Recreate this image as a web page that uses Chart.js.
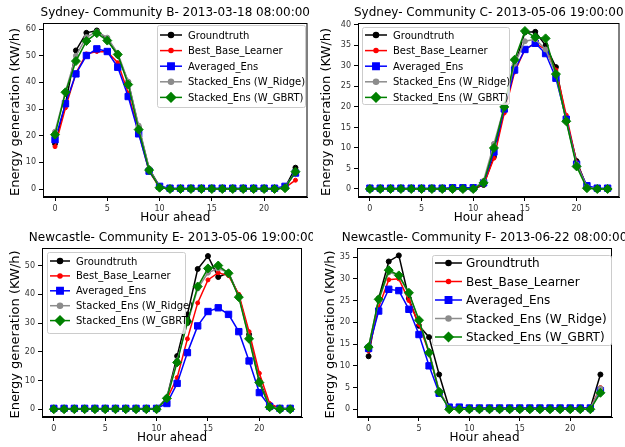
<!DOCTYPE html>
<html>
<head>
  <title>Energy generation forecasts</title>
  <script src="https://cdn.jsdelivr.net/npm/chart.js"></script>
  <style>
    body { margin: 0; background: #fff; }
    #wrap { position: relative; width: 625px; height: 447px; overflow: hidden; }
    canvas { position: absolute; }
  </style>
</head>
<body>
<div id="wrap">
  <canvas id="c1" width="313" height="225" style="left:0;top:0"></canvas>
  <canvas id="c2" width="312" height="225" style="left:313px;top:0"></canvas>
  <canvas id="c3" width="313" height="222" style="left:0;top:225px"></canvas>
  <canvas id="c4" width="312" height="222" style="left:313px;top:225px"></canvas>
</div>
<script>
// data
var hours = [0, 1, 2, 3, 4, 5, 6, 7, 8, 9, 10, 11, 12, 13, 14, 15, 16, 17, 18, 19, 20, 21, 22, 23];
var seriesNames = ["Groundtruth", "Best_Base_Learner", "Averaged_Ens", "Stacked_Ens (W_Ridge)", "Stacked_Ens (W_GBRT)"];
var xTicks = [0, 5, 10, 15, 20];

// Sydney- Community B
var sydB_truth = [17, 32, 52, 58.6, 59.5, 56.2, 50.2, 40.2, 23.2, 7.6, 1, 0, 0, 0, 0, 0, 0, 0, 0, 0, 0, 0, 0.5, 8];
var sydB_best  = [15.9, 30.5, 43.5, 50.7, 51.6, 51.5, 47.4, 36, 21.2, 6.7, 0.5, 0, 0, 0, 0, 0, 0, 0, 0, 0, 0, 0, 0.5, 3.3];
var sydB_avg   = [18.5, 32, 43.2, 50.1, 52.6, 51.6, 45.7, 34.7, 20.7, 6.7, 1, 0.3, 0.3, 0.3, 0.3, 0.3, 0.3, 0.3, 0.3, 0.3, 0.3, 0.3, 1, 6];
var sydB_ridge = [21.5, 36.5, 50, 57, 59, 56.8, 51, 40.3, 23.8, 7.7, 0.5, 0, 0, 0, 0, 0, 0, 0, 0, 0, 0, 0, 0.5, 6.5];
var sydB_gbrt  = [20.4, 36.3, 48, 55.5, 58.5, 55.7, 50.5, 39.2, 22.3, 7.1, 0.5, 0, 0, 0, 0, 0, 0, 0, 0, 0, 0, 0, 0.3, 6.5];
var sydB_yTicks = [0, 10, 20, 30, 40, 50, 60];

// Sydney- Community C
var sydC_truth = [0, 0, 0, 0, 0, 0, 0, 0, 0, 0, 0, 1, 7.9, 19.5, 30, 38.2, 38.3, 35, 29.7, 17, 6.8, 0.5, 0, 0];
var sydC_best  = [0, 0, 0, 0, 0, 0, 0, 0, 0.2, 0.2, 0.3, 1, 7.5, 18.5, 28.5, 34, 35.5, 34, 29, 18, 6.5, 0.5, 0, 0];
var sydC_avg   = [0.2, 0.2, 0.2, 0.2, 0.2, 0.2, 0.2, 0.2, 0.3, 0.3, 0.3, 1.5, 9, 19.5, 29, 34, 35.5, 33, 27, 17, 6, 0.8, 0.2, 0.2];
var sydC_ridge = [0, 0, 0, 0, 0, 0, 0, 0, 0, 0, 0, 2, 11, 20, 30.5, 36, 36.5, 34, 28, 16.5, 6, 0.5, 0, 0];
var sydC_gbrt  = [0, 0, 0, 0, 0, 0, 0, 0, 0, 0, 0, 1.5, 10, 20, 31.5, 38.5, 37, 36.7, 28, 16.5, 5.5, 0.2, 0, 0];
var sydC_yTicks = [0, 5, 10, 15, 20, 25, 30, 35, 40];

// Newcastle- Community E
var newE_truth = [0, 0, 0, 0, 0, 0, 0, 0, 0, 0, 0, 4, 18.5, 33, 48.8, 53.3, 46, 47.5, 39.5, 26, 10, 1.5, 0.3, 0.3];
var newE_best  = [0, 0, 0, 0, 0, 0, 0, 0, 0, 0, 0, 3.5, 11, 24.5, 37, 45, 47.5, 46.5, 40, 27, 12.5, 2, 0.3, 0];
var newE_avg   = [0.3, 0.3, 0.3, 0.3, 0.3, 0.3, 0.3, 0.3, 0.3, 0.3, 0.3, 2, 9, 19.7, 29, 34, 35.3, 33, 27, 16.8, 5.8, 1, 0.3, 0.3];
var newE_ridge = [0, 0, 0, 0, 0, 0, 0, 0, 0, 0, 0, 4, 17, 30, 42, 47.5, 49, 47.5, 39, 25, 9.5, 1, 0.2, 0];
var newE_gbrt  = [0, 0, 0, 0, 0, 0, 0, 0, 0, 0, 0, 3.8, 16.3, 30.5, 42.7, 49, 50, 47.3, 39, 24.5, 9.3, 0.7, 0, 0];
var newE_yTicks = [0, 10, 20, 30, 40, 50];

// Newcastle- Community F
var newF_truth = [12.2, 25.5, 34, 35.4, 25.5, 19.2, 16.6, 8, 0.3, 0.3, 0.2, 0.2, 0.2, 0.2, 0.2, 0.2, 0.2, 0.2, 0.2, 0.2, 0.2, 0.2, 0.3, 8];
var newF_best  = [13.4, 23.5, 29.8, 30, 25, 19.5, 13, 4, 0.3, 0.3, 0.2, 0.2, 0.2, 0.2, 0.2, 0.2, 0.2, 0.2, 0.2, 0.2, 0.2, 0.2, 0.3, 5];
var newF_avg   = [14, 22.6, 27.6, 27.3, 23, 17.2, 10, 3.7, 0.5, 0.5, 0.3, 0.3, 0.3, 0.3, 0.3, 0.3, 0.3, 0.3, 0.3, 0.3, 0.3, 0.3, 0.3, 4.3];
var newF_ridge = [14.5, 25, 31.5, 30.8, 26.5, 20.5, 13.3, 4.3, 0.2, 0.2, 0, 0, 0, 0, 0, 0, 0, 0, 0, 0, 0, 0, 0.2, 4.8];
var newF_gbrt  = [14.3, 25.3, 32, 30.8, 26.8, 20.5, 13, 4, 0, 0, 0, 0, 0, 0, 0, 0, 0, 0, 0, 0, 0, 0, 0, 3.8];
var newF_yTicks = [0, 5, 10, 15, 20, 25, 30, 35];

// styles
var FONT = "'DejaVu Sans', sans-serif";
var styles = [
  { color: "#000000", pointStyle: "circle", radius: 2.5 },
  { color: "#ff0000", pointStyle: "circle", radius: 2 },
  { color: "#0000ff", pointStyle: "rect", radius: 4.5 },
  { color: "#8c8c8c", pointStyle: "circle", radius: 2.5 },
  { color: "#008000", pointStyle: "rectRot", radius: 4.5 }
];

// overlay: frame, titles, legend box inside plot
var overlay = {
  id: "overlay",
  afterDraw: function (chart) {
    var o = chart.options.plugins.overlay;
    var a = chart.chartArea, ctx = chart.ctx;
    ctx.save();
    ctx.strokeStyle = "#000";
    ctx.lineWidth = 1;
    ctx.strokeRect(a.left + 0.5, a.top + 0.5, a.right - a.left - 1, a.bottom - a.top - 1);

    ctx.fillStyle = "#000";
    ctx.textAlign = "center";
    ctx.textBaseline = "middle";
    ctx.font = "12px " + FONT;
    ctx.fillText(o.title, (a.left + a.right) / 2, o.titleY);
    ctx.fillText("Hour ahead", (a.left + a.right) / 2, o.xLabelY);
    ctx.font = "13px " + FONT;
    ctx.save();
    ctx.translate(o.yLabelX, (a.top + a.bottom) / 2 + 2);
    ctx.rotate(-Math.PI / 2);
    ctx.fillText("Energy generation (KW/h)", 0, 0);
    ctx.restore();

    // legend
    var L = o.legend;
    ctx.fillStyle = "rgba(255,255,255,0.8)";
    ctx.strokeStyle = "#cccccc";
    ctx.beginPath();
    ctx.roundRect(L.x + 0.5, L.y + 0.5, L.w, L.h, 2);
    ctx.fill();
    ctx.stroke();
    ctx.font = L.fontSize + "px " + FONT;
    ctx.textAlign = "left";
    chart.data.datasets.forEach(function (ds, i) {
      var yy = L.y + L.first + i * L.gap;
      var st = styles[i];
      ctx.strokeStyle = st.color;
      ctx.lineWidth = 1.5;
      ctx.beginPath();
      ctx.moveTo(L.x + 3, yy);
      ctx.lineTo(L.x + 3 + L.lineLen, yy);
      ctx.stroke();
      Chart.helpers.drawPoint(ctx, { pointStyle: st.pointStyle, radius: st.radius, borderWidth: 1 }, L.x + 3 + L.lineLen / 2, yy);
      ctx.fillStyle = st.color;
      ctx.fill();
      ctx.fillStyle = "#000";
      ctx.fillText(ds.label, L.x + L.textX, yy + 1);
    });
    ctx.restore();
  }
};

function makePanel(id, title, values, yTicks, yMin, yMax, geo) {
  var canvas = document.getElementById(id);
  var W = canvas.width, H = canvas.height;
  var datasets = values.map(function (v, i) {
    var st = styles[i];
    return {
      label: seriesNames[i],
      data: hours.map(function (h, k) { return { x: h, y: v[k] }; }),
      borderColor: st.color,
      backgroundColor: st.color,
      pointBackgroundColor: st.color,
      pointBorderColor: st.color,
      pointStyle: st.pointStyle,
      pointRadius: st.radius,
      pointBorderWidth: 1,
      borderWidth: 1.5,
      tension: 0,
      order: values.length - i
    };
  });
  new Chart(canvas.getContext("2d"), {
    type: "line",
    data: { datasets: datasets },
    options: {
      responsive: false,
      animation: false,
      devicePixelRatio: 1,
      layout: { padding: { top: geo.top, right: W - geo.right, left: 0, bottom: 0 } },
      plugins: {
        legend: { display: false },
        tooltip: { enabled: false },
        overlay: { title: title, titleY: 13, xLabelY: geo.xLabelY, yLabelX: geo.yLabelX, legend: geo.legend }
      },
      scales: {
        x: {
          type: "linear", min: -1.15, max: 24.15,
          afterBuildTicks: function (s) { s.ticks = xTicks.map(function (v) { return { value: v }; }); },
          afterFit: function (s) { s.height = H - geo.bottom; },
          ticks: { font: { family: FONT, size: 8 }, color: "#333", padding: 3, maxRotation: 0 },
          grid: { drawOnChartArea: false, drawTicks: true, tickLength: 4, color: "#000" },
          border: { color: "#000" }
        },
        y: {
          type: "linear", min: yMin, max: yMax,
          afterBuildTicks: function (s) { s.ticks = yTicks.map(function (v) { return { value: v }; }); },
          afterFit: function (s) { s.width = geo.left; },
          ticks: { font: { family: FONT, size: 8 }, color: "#333", padding: 3 },
          grid: { drawOnChartArea: false, drawTicks: true, tickLength: 4, color: "#000" },
          border: { color: "#000" }
        }
      }
    },
    plugins: [overlay]
  });
}

makePanel("c1", "Sydney- Community B- 2013-03-18 08:00:00",
  [sydB_truth, sydB_best, sydB_avg, sydB_ridge, sydB_gbrt], sydB_yTicks, -3, 62.3,
  { left: 43, right: 310, top: 23, bottom: 197, xLabelY: 218, yLabelX: 16,
    legend: { x: 157, y: 25, w: 148, h: 82, fontSize: 10, first: 10, gap: 15.6, lineLen: 22, textX: 31 } });

makePanel("c2", "Sydney- Community C- 2013-05-06 19:00:00",
  [sydC_truth, sydC_best, sydC_avg, sydC_ridge, sydC_gbrt], sydC_yTicks, -1.95, 40.45,
  { left: 45, right: 310, top: 23, bottom: 197, xLabelY: 218, yLabelX: 14,
    legend: { x: 49, y: 27, w: 147, h: 77, fontSize: 10, first: 8, gap: 15.6, lineLen: 22, textX: 31 } });

makePanel("c3", "Newcastle- Community E- 2013-05-06 19:00:00",
  [newE_truth, newE_best, newE_avg, newE_ridge, newE_gbrt], newE_yTicks, -2.7, 56.1,
  { left: 42, right: 302, top: 23, bottom: 192, xLabelY: 213, yLabelX: 16,
    legend: { x: 47, y: 27, w: 138, h: 81, fontSize: 10, first: 9, gap: 14.9, lineLen: 20, textX: 29 } });

makePanel("c4", "Newcastle- Community F- 2013-06-22 08:00:00",
  [newF_truth, newF_best, newF_avg, newF_ridge, newF_gbrt], newF_yTicks, -1.77, 37.1,
  { left: 44, right: 299, top: 23, bottom: 192, xLabelY: 213, yLabelX: 18,
    legend: { x: 119, y: 30, w: 179, h: 90, fontSize: 12, first: 8, gap: 18.5, lineLen: 27, textX: 34 } });
</script>
</body>
</html>
